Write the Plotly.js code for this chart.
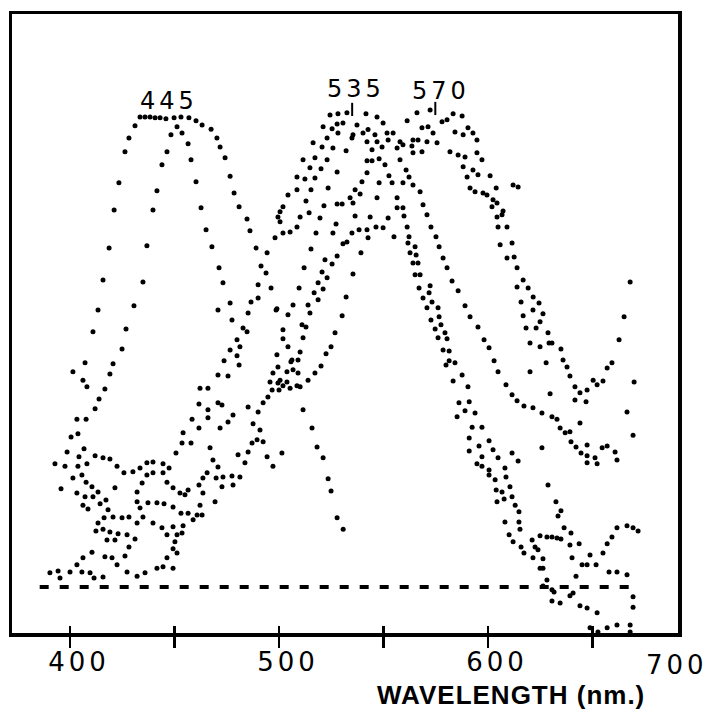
<!DOCTYPE html>
<html><head><meta charset="utf-8">
<script src="https://cdn.plot.ly/plotly-3.0.1.min.js"></script>
<style>
html,body{margin:0;padding:0;background:#fff;}
#chart{width:710px;height:719px;}
.xtick text{letter-spacing:4px;}
</style></head>
<body><div id="chart"></div>
<script>
// Wavelength (nm), relative absorbance (baseline = 0, 445 peak = 100)
const blueA = [[390.4,3.0],[394.3,3.4],[395.2,1.9],[395.7,20.9],[398.6,28.7],[400.5,31.9],[401.4,45.8],[406.2,44.0],[407.2,47.7],[408.1,42.6],[411.0,54.3],[413.4,58.9],[415.8,65.3],[418.7,72.1],[421.1,80.2],[423.4,86.0],[426.3,92.6],[428.2,95.5],[431.1,98.1],[433.5,100],[435.9,100],[438.3,100],[440.7,99.8],[443.1,99.8],[445.9,99.6],[449.8,99.8],[453.1,100],[456.9,99.8],[460.3,99.2],[463.2,98.3],[467.5,97.4],[470.3,95.5],[471.8,93.6],[474.2,91.3],[476.6,87.4],[478.5,83.8],[480.9,80.9],[484.7,78.3],[486.1,75.8],[489.0,72.1],[491.4,68.3],[493.8,66.8],[496.2,63.6],[499.0,59.2],[501.9,54.7],[504.3,51.1],[506.2,48.3],[509.1,45.5],[510.1,42.6],[511.5,37.7],[515.8,33.8],[518.2,29.8],[521.1,27.5],[523.5,23.0],[524.9,20.4],[527.8,14.7],[530.7,12.3]];
const blueB = [[392.8,26.2],[397.6,25.7],[403.3,35.7],[403.8,32.6],[406.7,29.4],[407.7,35.7],[412.0,37.9],[413.9,40.0],[416.7,42.1],[419.1,45.3],[420.6,47.5],[424.9,50.6],[426.8,54.9],[430.6,59.8],[434.9,64.9],[436.8,72.6],[439.7,80.2],[441.6,84.3],[444.0,89.8],[446.4,92.6],[448.3,96.2],[451.2,97.9],[453.6,96.6],[456.5,94.3],[457.9,90.9],[460.3,86.2],[462.7,80.7],[465.1,76.0],[467.9,72.4],[471.3,67.9],[473.2,64.7],[476.6,60.4],[477.5,56.8],[479.9,52.6],[480.9,47.2]];
const cellC = [[404.3,27.7],[403.8,25.7],[408.1,26.2],[412.0,27.9],[415.8,27.5],[419.1,27.2],[422.5,25.7],[425.8,24.3],[430.1,24.5],[401.4,23.2],[405.7,23.8],[407.7,22.3],[410.5,21.3],[403.3,20.0],[407.2,19.2],[411.0,19.2],[413.4,20.2],[406.2,17.4],[408.6,16.6],[414.4,17.7],[417.2,18.5],[421.5,21.1],[418.2,16.4],[416.3,14.7],[420.6,14.9],[413.4,13.6],[412.4,11.9],[415.8,12.3],[419.1,11.7],[417.7,10.0],[436.8,26.4],[433.5,25.3],[409.6,3.0],[405.7,3.2],[403.3,4.7],[400.0,3.2],[406.2,6.2],[410.5,7.4]];
const cellD = [[424.9,14.7],[428.2,14.9],[423.0,11.3],[427.3,11.1],[421.5,10.0],[431.1,10.2],[428.2,8.5],[432.1,13.6],[434.9,14.9],[439.7,13.6],[433.5,16.8],[437.3,17.9],[441.6,17.9],[432.1,18.1],[432.1,20.2],[434.5,22.1],[436.8,23.8],[439.7,24.3],[444.5,24.3],[446.4,22.3],[447.4,25.3],[444.5,26.2],[439.7,26.6],[427.3,3.2],[426.3,6.6],[422.5,4.7],[420.1,6.2],[416.7,6.4],[415.8,2.1],[411.5,1.9],[450.7,28.5],[453.6,30.6],[454.1,32.8],[457.9,30.6],[458.4,35.7],[461.7,33.8],[461.7,38.9],[462.2,42.3],[466.0,42.3],[466.0,37.7],[470.8,45.1],[473.7,48.1],[485.2,58.3],[482.8,55.1],[484.7,54.3],[481.3,51.1],[476.6,50.4],[494.3,71.1],[490.0,64.3],[490.0,61.5],[486.6,60.6],[470.8,58.9],[524.4,100.4],[528.2,100.7],[532.5,100.9],[521.1,97.9],[525.4,97.5],[527.8,98.5],[530.6,98.7],[516.3,94.5],[523.0,95.5],[528.2,96.6],[525.8,93.4],[520.6,93.6],[511.5,90.9],[517.2,91.3],[523.0,90.9],[514.8,89.2],[520.1,89.0],[508.6,87.2],[512.4,86.8],[517.2,87.0],[504.3,83.4],[508.6,84.5],[515.3,84.5],[512.9,82.1],[501.9,80.9],[500.5,79.8],[499.5,78.7],[510.1,78.7],[500.5,77.7],[508.6,76.6],[505.3,75.5],[501.9,75.3],[498.1,74.3]];
const cellE = [[444.0,12.6],[446.4,11.1],[445.0,17.7],[449.3,17.0],[453.1,15.7],[456.5,15.7],[449.3,21.1],[452.6,20.0],[455.0,19.6],[456.5,20.6],[449.3,12.8],[454.1,13.0],[453.6,11.5],[451.2,11.1],[450.2,9.6],[449.3,8.1],[446.4,6.2],[444.5,4.3],[441.6,4.0],[435.9,3.0],[432.1,2.3],[466.0,36.0],[470.8,39.2],[472.7,38.7],[475.6,44.9],[467.0,29.6],[471.8,33.8],[475.6,35.1],[478.0,36.6],[468.4,27.0],[465.6,24.3],[463.6,23.2],[461.7,21.7],[463.6,20.0],[498.6,58.9],[504.3,57.9],[506.7,60.0],[479.9,49.2],[541.6,100.7],[546.9,100.0],[549.8,98.7],[537.3,98.3],[535.4,96.2],[540.2,96.6],[542.6,97.3],[545.9,96.2],[534.9,95.5],[542.1,94.7],[546.9,94.7],[544.5,93.0],[532.1,92.8],[542.1,90.7],[527.8,88.3],[523.5,84.9],[534.0,82.8],[527.8,81.5],[530.2,81.5],[521.5,81.1],[514.4,79.6],[519.6,78.5],[517.7,75.3],[527.3,77.2],[525.8,75.3],[515.3,71.9],[512.0,67.9],[509.6,63.6]];
const cellF = [[458.9,14.3],[460.8,15.3],[463.2,15.3],[451.2,7.2],[449.3,4.0],[485.2,38.3],[490.0,37.2],[492.4,39.2],[494.7,40.4],[496.7,41.9],[500.0,41.9],[501.9,42.8],[505.3,42.3],[503.8,43.6],[499.5,43.4],[495.7,43.6],[470.8,25.5],[469.9,23.2],[473.2,23.4],[477.5,23.6],[481.3,23.4],[483.7,26.4],[480.4,28.1],[485.2,28.7],[489.5,31.3],[492.4,30.9],[487.1,30.6],[469.4,18.1],[472.7,21.3],[478.0,21.7],[462.2,17.4],[487.6,34.7],[490.9,33.4],[513.9,60.0],[514.8,58.3],[511.0,55.8],[511.5,53.0],[501.9,52.8],[510.1,50.0],[509.1,48.3],[505.7,47.9],[506.7,46.2],[503.8,45.8],[499.5,46.8],[497.1,45.5],[500.5,44.0],[499.0,49.4],[561.3,99.2],[566.0,100.9],[572.3,101.5],[551.7,96.6],[554.6,96.6],[568.4,97.7],[552.2,95.1],[557.9,94.7],[559.3,94.1],[564.1,95.1],[566.5,95.1],[563.6,93.8],[549.3,93.6],[556.5,93.4],[544.5,90.7],[547.9,91.1],[550.7,89.8],[557.9,90.9],[564.1,92.4],[542.1,88.1],[552.6,87.5],[539.7,86.2],[547.9,86.0],[554.1,86.0],[536.4,84.5],[538.8,83.6],[546.9,82.8],[535.4,81.7],[536.4,78.9],[543.6,78.7],[534.9,75.3],[538.3,76.0],[542.1,76.0],[546.4,76.6],[530.6,73.0],[532.5,73.4],[542.6,74.3],[539.2,71.1],[527.8,70.4],[522.0,69.6],[525.4,68.7],[520.6,67.0],[518.7,64.7],[523.0,65.8],[516.8,62.6],[521.1,63.4],[518.7,61.1],[512.9,55.3]];
const cellG = [[508.6,42.8],[494.3,27.7],[497.1,25.7],[501.4,28.5],[513.9,44.0],[517.2,45.5],[520.1,47.0],[522.5,49.6],[524.9,51.1],[526.8,54.1],[530.2,57.7],[578.0,99.0],[580.4,99.4],[583.3,100.7],[587.6,100.2],[590.4,97.7],[592.8,96.6],[594.7,95.1],[571.3,97.9],[573.7,96.6],[584.2,96.8],[588.1,96.2],[570.8,94.7],[575.6,94.5],[581.8,92.6],[585.7,91.9],[589.0,91.5],[594.7,92.4],[568.4,92.6],[588.1,89.4],[592.8,88.7],[560.8,88.7],[562.2,87.2],[590.0,87.2],[595.2,87.7],[559.3,86.0],[564.1,85.5],[591.4,84.9],[593.8,84.1],[556.5,82.8],[567.5,84.1],[556.5,80.7],[559.3,80.7],[568.9,81.3],[552.2,78.5],[559.8,78.9],[570.8,79.2],[549.8,76.4],[555.0,74.5],[561.3,76.6],[572.7,76.6],[562.2,74.5],[561.7,73.2],[565.1,72.4],[575.1,74.5],[576.6,72.4],[535.4,66.6],[562.7,71.1],[565.6,70.6],[564.1,68.9],[566.5,68.9],[578.5,70.0],[580.4,67.9],[532.1,61.7],[565.1,66.4],[567.5,66.4],[567.0,63.6],[572.3,64.1],[582.8,65.1],[568.9,61.5],[571.8,62.6],[573.2,60.6],[570.8,59.4],[576.1,59.4],[572.7,56.8],[576.6,57.5],[574.7,54.9],[597.1,90.9],[601.0,87.5],[603.9,84.9],[597.6,83.8],[599.5,83.4],[602.4,82.4],[604.3,81.7],[601.9,80.9]];
const cellH = [[585.7,63.0],[589.0,59.8],[591.4,57.5],[577.5,55.8],[579.4,54.1],[595.2,55.3],[576.1,53.0],[580.4,52.8],[578.5,50.4],[581.4,50.2],[581.4,48.1],[584.2,47.7],[579.9,47.2],[587.6,45.1],[583.3,43.8],[590.4,42.6],[607.2,80.0],[606.7,79.2],[604.3,78.7],[604.8,76.6],[609.1,76.6],[605.8,72.8],[611.5,73.2],[609.1,70.0],[612.5,70.2],[613.9,67.9],[616.8,65.3],[613.9,63.8],[619.2,63.6],[621.6,61.7],[612.0,85.5],[614.4,85.1],[668.0,64.9],[598.1,52.6],[600.5,50.9],[602.9,48.1],[604.8,45.8],[608.6,43.0],[611.5,40.9],[613.9,39.6],[617.2,38.5],[621.5,38.1],[625.8,37.0],[630.6,36.2],[633.0,35.7],[634.5,33.8],[636.9,32.8],[639.2,33.0],[639.7,30.9],[642.1,29.8],[644.5,28.5],[647.4,27.9],[647.4,30.2],[651.2,27.5],[647.4,26.4],[652.2,26.2],[654.6,29.6],[657.0,30.0],[660.8,28.7],[661.7,27.0],[625.8,29.6],[620.1,45.8],[629.7,41.1],[644.0,34.9]];
const cellI = [[586.1,39.2],[591.0,39.4],[589.0,37.5],[593.8,37.0],[585.2,36.2],[592.4,34.0],[597.1,34.0],[591.0,31.7],[595.7,30.0],[600.5,31.1],[591.0,28.9],[597.1,27.7],[602.4,29.2],[604.8,27.5],[611.5,28.5],[614.4,26.8],[594.7,26.2],[597.1,25.7],[600.5,24.9],[608.1,25.3],[600.5,23.8],[603.4,22.8],[608.6,23.4],[610.5,21.3],[603.9,20.6],[606.7,20.2],[611.5,19.2],[628.7,21.7],[604.3,18.1],[607.7,18.7],[613.0,17.4],[614.8,16.0],[608.1,13.8],[614.8,13.8],[615.3,12.3],[610.1,11.1],[612.0,9.6],[615.8,8.5],[617.2,7.2],[621.5,6.2]];
const cellJ = [[615.8,60.6],[624.4,60.4],[616.8,57.7],[621.5,58.9],[626.3,58.1],[618.2,55.1],[623.0,55.1],[624.9,56.4],[628.7,54.1],[620.1,51.9],[624.9,51.1],[629.2,51.9],[630.6,51.9],[634.9,50.6],[627.8,47.7],[635.9,48.3],[637.8,46.8],[639.2,44.9],[641.6,42.6],[644.0,41.3],[647.4,41.9],[650.3,44.0],[652.2,43.0],[655.0,43.8],[657.0,46.6],[659.3,47.7],[662.7,52.6],[665.1,57.5],[669.9,43.6],[666.5,37.2],[669.4,32.3],[641.6,39.8],[646.9,39.4]];
const cellK = [[621.1,10.0],[622.5,8.5],[623.9,7.9],[624.9,10.9],[628.2,10.6],[630.6,10.6],[633.0,10.4],[634.9,10.2],[626.3,6.0],[624.9,4.0],[626.3,4.0],[628.2,1.5],[626.3,0.2],[630.6,-0.6],[631.6,-1.1],[630.6,-3.0],[634.5,-3.4],[639.2,-1.9],[640.7,-1.3],[644.0,-4.0],[647.4,-4.5],[652.2,-5.5],[648.8,-8.7],[652.6,-9.6],[657.0,-8.7],[661.7,-8.1],[668.0,-8.1],[668.0,-9.6],[669.4,-2.1],[669.4,-4.3],[632.5,18.1],[634.9,16.2],[633.5,15.1],[636.4,12.6],[639.7,11.5],[639.2,8.9],[643.6,9.2],[640.2,6.2],[642.1,2.3],[645.0,4.7],[647.4,4.7],[648.8,6.8],[651.7,4.7],[655.0,7.2],[657.0,9.2],[659.3,10.6],[661.7,12.6],[666.5,13.0],[669.4,12.6],[671.8,11.9],[657.9,3.2],[661.7,3.2],[666.5,2.6]];

const baselineNm = [385.5, 671.5];
const baselineAbs = [0, 0];
const tickVals = [400, 450, 500, 550, 600, 650];
const tickText = ['400', '', '500', '', '600', ''];
const peakNm = [445, 535, 570];
const peakText = ['445', '535', '570'];
const axisTitle = 'WAVELENGTH (nm.)';
const lastTickText = '700';

const XR = [372.25, 690.9];
const YR = [-9.8, 121.9];

const series = [blueA, blueB, cellC, cellD, cellE, cellF, cellG, cellH, cellI, cellJ, cellK];
const traces = series.map(s => ({
  type: 'scatter', mode: 'markers',
  x: s.map(p => p[0]), y: s.map(p => p[1]),
  marker: {size: 5, color: '#000'},
  cliponaxis: false, showlegend: false, hoverinfo: 'skip'
}));
traces.push({
  type: 'scatter', mode: 'lines', xaxis: 'x2', yaxis: 'y',
  x: baselineNm, y: baselineAbs,
  line: {color: '#000', width: 4, dash: '9px,11px'},
  showlegend: false, hoverinfo: 'skip'
});

const peakY = [103.4, 105.9, 105.5];
const peakShift = [5, 4, 16];
const annotations = peakNm.map((nm, i) => ({
  x: nm, y: peakY[i], xref: 'x', yref: 'y', text: peakText[i], showarrow: false,
  xshift: peakShift[i], xanchor: 'center', yanchor: 'middle',
  font: {family: 'DejaVu Sans', size: 24, color: '#000'}
}));
annotations.push({
  x: 0.998, y: -0.0517, xref: 'paper', yref: 'paper', text: lastTickText, showarrow: false,
  xanchor: 'center', yanchor: 'middle', font: {family: 'DejaVu Sans', size: 26, color: '#000'}
});
annotations.push({
  x: 0.749, y: -0.1, xref: 'paper', yref: 'paper', text: axisTitle, showarrow: false,
  xanchor: 'center', yanchor: 'middle', font: {family: 'Liberation Sans', size: 26, color: '#000', weight: 'bold'}
});

const shapes = [
  {type: 'line', xref: 'x', yref: 'y', x0: 535, x1: 535, y0: 100.2, y1: 103.0, line: {color: '#000', width: 2}},
  {type: 'line', xref: 'x', yref: 'y', xsizemode: 'pixel', xanchor: 570, x0: 10, x1: 10, y0: 100.4, y1: 103.2, line: {color: '#000', width: 2}}
];

const layout = {
  width: 710, height: 719,
  margin: {l: 12, r: 32, t: 14, b: 86},
  paper_bgcolor: '#fff', plot_bgcolor: '#fff',
  showlegend: false,
  xaxis: {
    range: XR, tickvals: tickVals, ticktext: tickText,
    ticks: 'outside', ticklen: 11, tickwidth: 2.5, tickcolor: '#000',
    tickfont: {family: 'DejaVu Sans', size: 26, color: '#000'},
    ticklabelshift: 9, ticklabelstandoff: -8,
    showline: true, mirror: true, linewidth: 3.5, linecolor: '#000',
    showgrid: false, zeroline: false
  },
  xaxis2: {
    range: XR, overlaying: 'x', anchor: 'y', side: 'bottom',
    tickvals: tickVals, ticks: 'inside', ticklen: 7, tickwidth: 2.5, tickcolor: '#000',
    showticklabels: false, showline: false, showgrid: false, zeroline: false
  },
  yaxis: {
    range: YR, showticklabels: false, ticks: '',
    showline: true, mirror: true, linewidth: 3.5, linecolor: '#000',
    showgrid: false, zeroline: false
  },
  annotations: annotations,
  shapes: shapes
};

Plotly.newPlot('chart', traces, layout, {staticPlot: true, displayModeBar: false}).then(gd => {
  gd.querySelectorAll('.annotation-text').forEach(t => {
    const s = t.textContent;
    t.style.letterSpacing = /^\d+$/.test(s) ? '4px' : '1px';
  });
});
</script>
</body></html>
